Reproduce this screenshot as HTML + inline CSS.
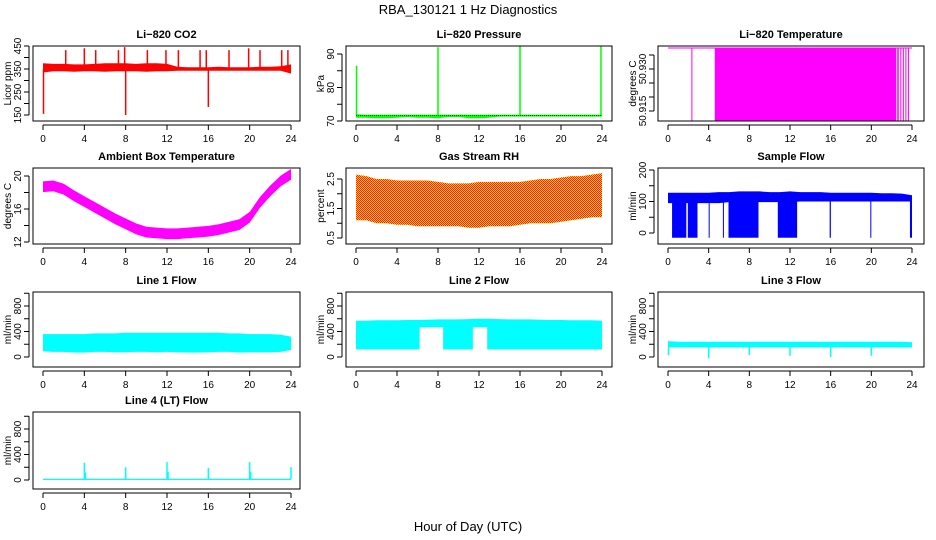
<!DOCTYPE html>
<html><head><meta charset="utf-8"><style>
html,body{margin:0;padding:0;background:#fff;}
svg{display:block;font-family:"Liberation Sans",sans-serif;}
</style></head><body>
<svg id="fig" width="936" height="540" viewBox="0 0 936 540" xmlns="http://www.w3.org/2000/svg">
<defs><pattern id="rhpat" width="2" height="2" patternUnits="userSpaceOnUse"><rect width="2" height="2" fill="#ffd000"/><rect width="1" height="1" fill="#ff2000"/><rect x="1" y="1" width="1" height="1" fill="#ff2000"/></pattern></defs>
<text x="468" y="14" text-anchor="middle" font-size="13">RBA_130121  1 Hz Diagnostics</text>
<text x="468" y="531" text-anchor="middle" font-size="13">Hour of Day (UTC)</text>
</svg>
<script>
const hours=[0,1,2,3,4,5,6,7,8,9,10,11,12,13,14,15,16,17,18,19,20,21,22,23,24];
const xTicks=[0,4,8,12,16,20,24];
// CO2
const co2Low=[335,340,340,338,340,340,338,340,340,340,338,340,340,342,342,342,342,342,342,342,342,342,342,342,330];
const co2High=[375,372,372,370,370,372,375,375,375,372,375,375,372,360,358,358,358,360,358,358,358,360,360,362,370];
const co2SpikeHours=[2.2,4.0,5.1,7.3,7.9,10.1,11.9,13.1,15.2,15.8,18.0,19.9,21.0,23.1,23.7];
const co2SpikeVals=[432,440,432,432,445,432,432,432,432,432,432,440,432,432,432];
const co2DipHours=[0.05,8.0,16.0];
const co2DipVals=[155,150,185];
// Pressure
const presLow=[71,71,70.8,70.8,71,71.2,71,71,70.8,71.2,71.2,70.8,70.8,71,71.3,71.3,71.3,71.3,71.3,71.3,71.3,71.3,71.3,71.3,71.3];
const presHigh=[72,71.9,71.9,71.9,71.9,71.9,71.9,71.9,71.9,71.9,71.9,71.9,71.9,71.9,71.9,71.9,71.9,71.9,71.9,71.9,71.9,71.9,71.9,71.9,71.9];
const presSpikeHours=[0.05,8.0,16.0,23.9];
const presSpikeVals=[86.5,92,92.3,92.5];
// Li-820 temperature
const tempTop=50.9375;
const tempDropStart=[2.3,4.6,22.55,22.85,23.1,23.35,23.6];
const tempDropEnd=[2.36,22.45,22.7,22.95,23.2,23.45,23.66];
// Ambient
const ambMid=[18.7,18.8,18.4,17.6,16.9,16.2,15.5,14.8,14.2,13.6,13.2,13.1,13.0,13.0,13.1,13.2,13.3,13.5,13.8,14.1,15.0,16.8,18.2,19.4,20.2];
const ambHalf=0.65;
// RH
const rhLow=[1.1,1.1,1.0,1.0,0.95,0.95,0.9,0.9,0.9,0.9,0.9,0.85,0.85,0.9,0.9,0.9,0.95,1.0,1.0,1.0,1.05,1.1,1.15,1.2,1.2];
const rhHigh=[2.65,2.6,2.5,2.5,2.45,2.45,2.45,2.45,2.4,2.35,2.35,2.35,2.4,2.4,2.4,2.4,2.4,2.45,2.5,2.5,2.55,2.6,2.6,2.65,2.7];
// Sample flow
const sfLow=[95,95,95,95,95,95,98,98,98,98,98,98,98,100,100,100,100,100,100,100,100,100,100,100,100];
const sfHigh=[128,128,128,128,128,130,130,132,132,132,130,130,132,130,130,130,128,128,128,128,128,126,126,125,120];
const sfDropStart=[0.4,1.95,4.0,5.4,5.95,10.8,15.9,19.9,23.8];
const sfDropEnd=[1.8,2.9,4.08,5.5,8.9,12.7,16.02,19.97,24.0];
// Line flows
const l1Low=[90,80,80,70,70,80,80,75,75,80,80,75,80,75,70,70,75,80,80,70,75,75,75,80,110];
const l1High=[360,360,360,360,360,370,370,370,380,380,380,380,380,380,380,380,380,380,370,370,360,360,360,350,320];
const l2Low=[120,120,120,120,120,120,120,120,120,120,120,120,120,120,120,120,120,120,120,120,120,120,120,120,120];
const l2High=[570,570,575,575,575,580,580,585,590,590,590,595,600,600,595,590,590,590,585,580,580,575,575,575,570];
const l2GapStart=[6.2,11.4];
const l2GapEnd=[8.5,12.8];
const l2GapFloor=470;
const l3Low=[150,150,150,150,150,150,150,150,150,150,150,150,150,150,150,150,150,150,150,150,150,150,150,150,150];
const l3High=[250,240,240,240,240,240,240,240,240,240,240,240,240,240,240,240,240,240,240,240,240,240,240,240,230];
const l3SpikeHours=[0.05,4.0,8.0,12.0,16.0,20.0];
const l3SpikeVals=[30,-20,30,20,0,20];
const l4Low=hours.map(()=>0);
const l4High=hours.map(()=>20);
const l4SpikeHours=[4.0,4.1,8.0,12.0,12.1,16.0,20.0,20.1,24.0];
const l4SpikeVals=[270,120,200,280,130,190,280,130,200];

const NS="http://www.w3.org/2000/svg";
const svg=document.getElementById('fig');
function mk(tag,attrs,parent){const e=document.createElementNS(NS,tag);for(const k in attrs)e.setAttribute(k,attrs[k]);(parent||svg).appendChild(e);return e;}

const cols=[{bx0:33,bx1:300,x0:43,x24:291},{bx0:346,bx1:612,x0:356,x24:602},{bx0:658,bx1:924,x0:668,x24:912}];
const rows=[{top:46,bot:121},{top:168,bot:244},{top:292,bot:367},{top:412,bot:489}];

function panel(name,title,ylab,r,c,ya,yb,pa,pb,yticks,ylabels){
  const col=cols[c],row=rows[r];
  const g=mk('g',{});
  
  
  const sx=h=>col.x0+(col.x24-col.x0)*h/24;
  const sy=v=>pa+(pb-pa)*(v-ya)/(yb-ya);
  const clipId='clip-'+name;
  const cp=mk('clipPath',{id:clipId},g);mk('rect',{x:col.bx0,y:row.top,width:col.bx1-col.bx0,height:row.bot-row.top},cp);
  const plot=mk('g',{'clip-path':'url(#'+clipId+')'},g);
  
  
  const t=mk('text',{x:(col.bx0+col.bx1)/2,y:row.top-8,'text-anchor':'middle','font-size':'11','font-weight':'bold'},g);t.textContent=title;
  
  
  const box=mk('rect',{x:col.bx0,y:row.top,width:col.bx1-col.bx0,height:row.bot-row.top,fill:'none',stroke:'#000','stroke-width':1},g);
  
  
  const ax=mk('g',{stroke:'#000','stroke-width':1},g);
  
  
  mk('line',{x1:sx(0),x2:sx(24),y1:row.bot+4,y2:row.bot+4},ax);
  xTicks.forEach(h=>{mk('line',{x1:sx(h),x2:sx(h),y1:row.bot+4,y2:row.bot+9},ax);
    const l=mk('text',{x:sx(h),y:row.bot+21,'text-anchor':'middle','font-size':'10',stroke:'none'},ax);l.textContent=h;});
  const ay=mk('g',{stroke:'#000','stroke-width':1},g);
  
  
  const ax0=col.bx0-4;
  mk('line',{x1:ax0,x2:ax0,y1:sy(yticks[0]),y2:sy(yticks[yticks.length-1])},ay);
  yticks.forEach(v=>mk('line',{x1:ax0,x2:ax0-5,y1:sy(v),y2:sy(v)},ay));
  ylabels.forEach(v=>{const yy=sy(parseFloat(v));const l=mk('text',{x:ax0-8,y:yy,transform:'rotate(-90 '+(ax0-8)+' '+yy+')','text-anchor':'middle','font-size':'10',stroke:'none'},ay);l.textContent=v;});
  const yl=mk('text',{x:col.bx0-22,y:(row.top+row.bot)/2,transform:'rotate(-90 '+(col.bx0-22)+' '+((row.top+row.bot)/2)+')','text-anchor':'middle','font-size':'10'},g);yl.textContent=ylab;
  
  
  return {plot,sx,sy,row};
}
function bands(p,lo,hi,fill){
  let pts=[];
  for(let i=0;i<hours.length;i++)pts.push(p.sx(hours[i]).toFixed(1)+','+p.sy(hi[i]).toFixed(1));
  for(let i=hours.length-1;i>=0;i--)pts.push(p.sx(hours[i]).toFixed(1)+','+p.sy(lo[i]).toFixed(1));
  const r=mk('polygon',{points:pts.join(' '),fill:fill},p.plot);
  
  
}
function spikes(p,hs,vs,base,color,w){
  hs.forEach((h,i)=>{const y1=p.sy(base),y2=p.sy(vs[i]);
    const r=mk('rect',{x:p.sx(h)-w/2,y:Math.min(y1,y2),width:w,height:Math.abs(y2-y1),fill:color},p.plot);
    
    });
}
function drops(p,st,en,top,bottom,color){
  st.forEach((s,i)=>{const x1=p.sx(s),x2=Math.max(p.sx(en[i]),x1+1);const y1=p.sy(top),y2=p.sy(bottom);
    const r=mk('rect',{x:x1,y:Math.min(y1,y2),width:x2-x1,height:Math.abs(y2-y1),fill:color},p.plot);
    
    });
}

// CO2
let p=panel('co2','Li−820 CO2','Licor ppm',0,0,150,450,115,46,[150,200,250,300,350,400,450],['150','250','350','450']);
bands(p,co2Low,co2High,'#ff0000');spikes(p,co2SpikeHours,co2SpikeVals,350,'#ff0000',1.5);spikes(p,co2DipHours,co2DipVals,350,'#ff0000',1.5);
// Pressure
p=panel('pressure','Li−820 Pressure','kPa',0,1,70,90,121,54,[70,75,80,85,90],['70','80','90']);
bands(p,presLow,presHigh,'#00ff00');
spikes(p,presSpikeHours,presSpikeVals,71.7,'#00ff00',1.5);
mk('line',{x1:p.sx(0),x2:p.sx(24),y1:p.sy(71.7),y2:p.sy(71.7),stroke:'#000','stroke-width':0.6,'stroke-dasharray':'1,1'},p.plot);
// Li temp
p=panel('li820-temp','Li−820 Temperature','degrees C',0,2,50.915,50.930,111,69,[50.915,50.920,50.925,50.930,50.935],['50.915','50.930']);
mk('line',{x1:p.sx(0),x2:p.sx(24),y1:p.sy(tempTop),y2:p.sy(tempTop),stroke:'#ff00ff','stroke-width':1},p.plot);
drops(p,tempDropStart,tempDropEnd,tempTop,50.90,'#ff00ff');
// Ambient
p=panel('ambient-temp','Ambient Box Temperature','degrees C',1,0,12,20,242,176,[12,14,16,18,20],['12','16','20']);
bands(p,ambMid.map(v=>v-ambHalf),ambMid.map(v=>v+ambHalf),'#ff00ff');
// RH
p=panel('gas-rh','Gas Stream RH','percent',1,1,0.5,2.5,238,179,[0.5,1.0,1.5,2.0,2.5],['0.5','1.5','2.5']);
bands(p,rhLow,rhHigh,'url(#rhpat)');
// Sample flow
p=panel('sample-flow','Sample Flow','ml/min',1,2,0,200,233,170,[0,50,100,150,200],['0','100','200']);
bands(p,sfLow,sfHigh,'#0000ff');drops(p,sfDropStart,sfDropEnd,100,-15,'#0000ff');
// Lines
const fT=[0,200,400,600,800,1000],fL=['0','400','800'];
p=panel('line1-flow','Line 1 Flow','ml/min',2,0,0,800,357,306,fT,fL);bands(p,l1Low,l1High,'#00ffff');
p=panel('line2-flow','Line 2 Flow','ml/min',2,1,0,800,357,306,fT,fL);bands(p,l2Low,l2High,'#00ffff');drops(p,l2GapStart,l2GapEnd,l2GapFloor-2,100,'#ffffff');
p=panel('line3-flow','Line 3 Flow','ml/min',2,2,0,800,357,306,fT,fL);bands(p,l3Low,l3High,'#00ffff');spikes(p,l3SpikeHours,l3SpikeVals,150,'#00ffff',1.5);
p=panel('line4-flow','Line 4 (LT) Flow','ml/min',3,0,0,800,480,429,fT,fL);bands(p,l4Low,l4High,'#00ffff');spikes(p,l4SpikeHours,l4SpikeVals,10,'#00ffff',1.5);
</script>
</body></html>
